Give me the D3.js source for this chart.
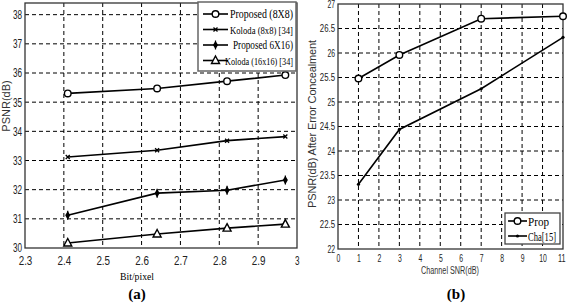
<!DOCTYPE html>
<html lang="en">
<head>
  <meta charset="UTF-8">
  <title>PSNR comparison</title>
  <script src="https://d3js.org/d3.v7.min.js"></script>
  <style>
    body { margin: 0; background: #fff; }
    .tick-lbl { font-family: "Liberation Sans", Arial, sans-serif; fill: #222; }
    .line { fill: none; stroke: #000; stroke-width: 1.6px; }
    .leg { font-family: "Liberation Serif", "DejaVu Serif", serif; fill: #000; }
  </style>
</head>
<body>
  <svg width="567" height="306"></svg>

  <script>
    // panel (a)
    const bitrate = [2.41, 2.64, 2.82, 2.97];
    const prop8 = [35.3, 35.47, 35.72, 35.93];
    const kol8 = [33.12, 33.35, 33.68, 33.82];
    const prop616 = [31.12, 31.88, 31.98, 32.33];
    const kol16 = [30.17, 30.48, 30.68, 30.82];
    const aXTicks = [2.3, 2.4, 2.5, 2.6, 2.7, 2.8, 2.9, 3];
    const aYTicks = [30, 31, 32, 33, 34, 35, 36, 37, 38];
    const aNames = ["Proposed (8X8)", "Koloda (8x8) [34]", "Proposed 6X16)", "Koloda (16x16) [34]"];

    // panel (b)
    const snr = [1, 3, 7, 11];
    const propB = [25.48, 25.96, 26.7, 26.75];
    const chaB = [23.32, 24.44, 25.27, 26.32];
    const bXTicks = [0, 1, 2, 3, 4, 5, 6, 7, 8, 9, 10, 11];
    const bYTicks = [22, 22.5, 23, 23.5, 24, 24.5, 25, 25.5, 26, 26.5, 27];
    const bNames = ["Prop", "Cha[15]"];

    const svg = d3.select("svg");

    function marker(g, type, x, y) {
      if (type === "circle") {
        g.append("circle").attr("cx", x).attr("cy", y).attr("r", 3.3)
          .attr("fill", "#fff").attr("stroke", "#000").attr("stroke-width", 1.4);
      } else if (type === "x") {
        g.append("path").attr("d", `M${x-2},${y-2}L${x+2},${y+2}M${x-2},${y+2}L${x+2},${y-2}`)
          .attr("stroke", "#000").attr("stroke-width", 1.3);
      } else if (type === "star") {
        g.append("path").attr("d", d3.symbol(d3.symbolDiamond, 22)())
          .attr("transform", `translate(${x},${y})`).attr("fill", "#000");
        g.append("path").attr("d", `M${x},${y-4.5}V${y+4.5}`).attr("stroke", "#000").attr("stroke-width", 1.2);
      } else if (type === "tri") {
        g.append("path").attr("d", `M${x},${y-4.5}L${x+4},${y+3}L${x-4},${y+3}Z`)
          .attr("fill", "#fff").attr("stroke", "#000").attr("stroke-width", 1.4);
      } else if (type === "dot") {
        g.append("circle").attr("cx", x).attr("cy", y).attr("r", 1.6).attr("fill", "#000");
      }
    }

    function panel(o) {
      const g = svg.append("g");
      const x = d3.scaleLinear().domain(o.xd).range([o.left, o.right]);
      const y = d3.scaleLinear().domain(o.yd).range([o.bottom, o.top]);

      // dotted grid at the tick values
      const gx = o.xt.filter(t => x(t) > o.left + 1 && x(t) < o.right - 1);
      const gy = o.yt.filter(t => y(t) < o.bottom - 1 && y(t) > o.top + 1);
      g.append("g").selectAll("line").data(gx).join("line")
        .attr("x1", d => x(d)).attr("x2", d => x(d)).attr("y1", o.top).attr("y2", o.bottom)
        .attr("stroke", "#000").attr("stroke-width", 1).attr("stroke-dasharray", "4,3");
      g.append("g").selectAll("line").data(gy).join("line")
        .attr("x1", o.left).attr("x2", o.right).attr("y1", d => y(d)).attr("y2", d => y(d))
        .attr("stroke", "#000").attr("stroke-width", 1).attr("stroke-dasharray", "4,3");

      // axes
      const xa = g.append("g").attr("transform", `translate(0,${o.bottom})`)
        .call(d3.axisBottom(x).tickValues(o.xt).tickSize(0).tickPadding(o.xpad).tickFormat(d => String(d)));
      const ya = g.append("g").attr("transform", `translate(${o.left},0)`)
        .call(d3.axisLeft(y).tickValues(o.yt).tickSize(0).tickPadding(3).tickFormat(d => String(d)));
      [xa, ya].forEach(a => {
        a.select(".domain").remove();
        a.selectAll("text").attr("class", "tick-lbl").attr("font-size", o.fs)
          .attr("textLength", d => String(d).length * o.fs * 0.38)
          .attr("lengthAdjust", "spacingAndGlyphs");
      });
      xa.selectAll(".tick").filter((d, i, n) => i === n.length - 1)
        .select("text").attr("text-anchor", "end").attr("dx", 2);

      g.append("rect").attr("x", o.left).attr("y", o.top)
        .attr("width", o.right - o.left).attr("height", o.bottom - o.top)
        .attr("fill", "none").attr("stroke", "#333").attr("stroke-width", 1.3);

      const line = d3.line().x((d, i) => x(o.xs[i])).y(d => y(d));
      o.series.forEach(s => {
        g.append("path").datum(s.v).attr("class", "line").attr("d", line);
        s.v.forEach((v, i) => marker(g, s.m, x(o.xs[i]), y(v)));
      });
      return g;
    }

    // (a)
    panel({
      left: 25, right: 297, top: 3, bottom: 248,
      xd: [2.3, 3], yd: [30, 38.4], xt: aXTicks, yt: aYTicks, xs: bitrate, fs: 12, xpad: 8,
      series: [
        {v: prop8, m: "circle"}, {v: kol8, m: "x"}, {v: prop616, m: "star"}, {v: kol16, m: "tri"}
      ]
    });

    // (b)
    panel({
      left: 338, right: 563, top: 4, bottom: 249,
      xd: [0, 11], yd: [22, 27], xt: bXTicks, yt: bYTicks, xs: snr, fs: 10, xpad: 6,
      series: [{v: propB, m: "circle"}, {v: chaB, m: "dot"}]
    });

    // legend (a)
    const la = svg.append("g");
    la.append("rect").attr("x", 198).attr("y", 2).attr("width", 98).attr("height", 69)
      .attr("fill", "#fff").attr("stroke", "#666").attr("stroke-width", 1.5);
    const aMarks = ["circle", "x", "star", "tri"];
    const aTx = [230, 230, 233, 225];
    const aFs = [12.5, 10.5, 12.5, 10.5];
    aNames.forEach((n, i) => {
      const yy = 14 + i * 15.5;
      la.append("line").attr("x1", 203).attr("x2", 228).attr("y1", yy).attr("y2", yy)
        .attr("stroke", "#000").attr("stroke-width", 1.6);
      marker(la, aMarks[i], 215.5, yy);
      la.append("text").attr("class", "leg").attr("x", aTx[i]).attr("y", yy + 4)
        .attr("font-size", aFs[i]).attr("textLength", 293 - aTx[i]).attr("lengthAdjust", "spacingAndGlyphs").text(n);
    });

    // legend (b)
    const lb = svg.append("g");
    lb.append("rect").attr("x", 505).attr("y", 213).attr("width", 55).attr("height", 31)
      .attr("fill", "#fff").attr("stroke", "#444").attr("stroke-width", 1.3);
    ["circle", "dot"].forEach((m, i) => {
      const yy = 221 + i * 15;
      lb.append("line").attr("x1", 508).attr("x2", 527).attr("y1", yy).attr("y2", yy)
        .attr("stroke", "#000").attr("stroke-width", 1.6);
      marker(lb, m, 517.5, yy);
      lb.append("text").attr("class", "leg").attr("x", 528).attr("y", yy + 4.5)
        .attr("font-size", 12).attr("textLength", i ? 28 : 21)
        .attr("lengthAdjust", "spacingAndGlyphs").text(bNames[i]);
    });

    // axis titles
    svg.append("text").attr("transform", "translate(10,106) rotate(-90)")
      .attr("text-anchor", "middle").attr("font-family", "Liberation Sans, Arial, sans-serif")
      .attr("font-size", 11).attr("fill", "#333").text("PSNR(dB)");
    svg.append("text").attr("transform", "translate(316,124) rotate(-90)")
      .attr("text-anchor", "middle").attr("font-family", "Liberation Sans, Arial, sans-serif")
      .attr("font-size", 11).attr("fill", "#333")
      .attr("textLength", 168).attr("lengthAdjust", "spacing").text("PSNR(dB) After Error Concealment");
    svg.append("text").attr("x", 137).attr("y", 280).attr("text-anchor", "middle")
      .attr("font-family", "Liberation Serif, serif").attr("font-size", 10)
      .attr("textLength", 34).attr("lengthAdjust", "spacingAndGlyphs").text("Bit/pixel");
    svg.append("text").attr("x", 450).attr("y", 274).attr("text-anchor", "middle")
      .attr("font-family", "Liberation Sans, sans-serif").attr("font-size", 10)
      .attr("textLength", 58).attr("lengthAdjust", "spacingAndGlyphs")
      .attr("fill", "#333").text("Channel SNR(dB)");
    svg.append("text").attr("x", 137).attr("y", 299).attr("text-anchor", "middle")
      .attr("font-family", "Liberation Serif, serif").attr("font-weight", "bold").attr("font-size", 15).text("(a)");
    svg.append("text").attr("x", 456).attr("y", 299).attr("text-anchor", "middle")
      .attr("font-family", "Liberation Serif, serif").attr("font-weight", "bold").attr("font-size", 15).text("(b)");
  </script>
</body>
</html>
